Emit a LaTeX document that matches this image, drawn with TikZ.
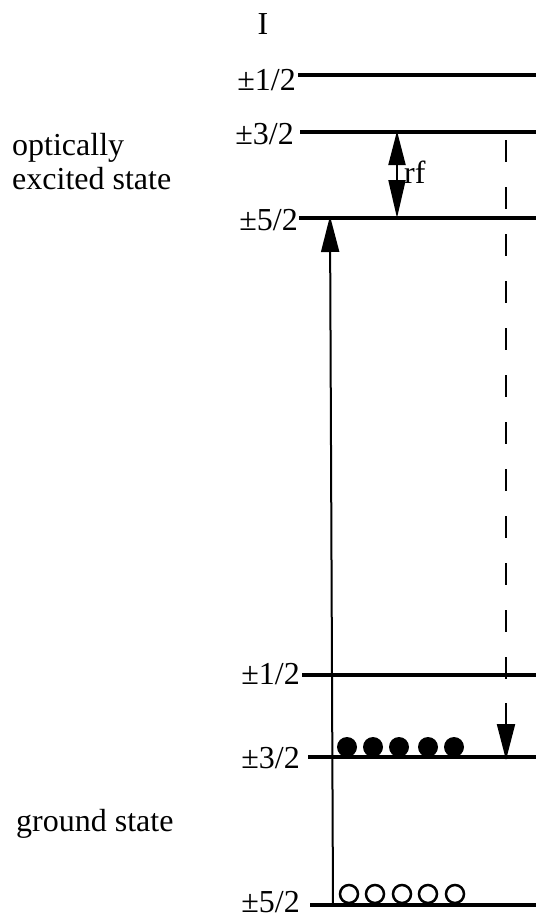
\documentclass[tikz,border=0pt]{standalone}
\usepackage{fontspec}
\setmainfont{Liberation Serif}
\usetikzlibrary{arrows.meta}
\begin{document}
\begin{tikzpicture}[x=1pt,y=-1pt,
  level/.style={line width=4pt},
  lab/.style={anchor=base east,inner sep=0pt,font=\fontsize{32}{34}\selectfont},
  txt/.style={anchor=base west,inner sep=0pt,align=left,font=\fontsize{32}{34}\selectfont},
  big/.style={-{Triangle[length=36pt,width=18pt]}},
  hole/.style={fill=white,draw=black,line width=2.5pt}]
\useasboundingbox (0,0) rectangle (536,919);
% title
\node[anchor=base,inner sep=0pt,font=\fontsize{32}{34}\selectfont] (I) at (263,34) {I};
% excited levels
\coordinate (e1a) at (298,75);  \coordinate (e1b) at (536,75);
\coordinate (e3a) at (300,132); \coordinate (e3b) at (536,132);
\coordinate (e5a) at (299,218); \coordinate (e5b) at (536,218);
\draw[level] (e1a) -- (e1b);
\draw[level] (e3a) -- (e3b);
\draw[level] (e5a) -- (e5b);
\node[lab] (le1) at (296,90) {±1/2};
\node[lab] (le3) at (294,144) {±3/2};
\node[lab] (le5) at (298,230) {±5/2};
% ground levels
\coordinate (g1a) at (302,675); \coordinate (g1b) at (536,675);
\coordinate (g3a) at (308,757); \coordinate (g3b) at (536,757);
\coordinate (g5a) at (310,905); \coordinate (g5b) at (536,905);
\draw[level] (g1a) -- (g1b);
\draw[level] (g3a) -- (g3b);
\draw[level] (g5a) -- (g5b);
\node[lab] (lg1) at (300,684) {±1/2};
\node[lab] (lg3) at (300,768) {±3/2};
\node[lab] (lg5) at (300,912) {±5/2};
% state labels
\node[txt] (exc) at (12,189) {optically\\excited state};
\node[txt] (gnd) at (16,831) {ground state};
% optical pump
\coordinate (pb) at (333,905);
\coordinate (pt) at (330,216);
\draw[line width=2pt,big] (pb) -- (pt);
% rf
\coordinate (rt) at (397,131);
\coordinate (rb) at (397,218);
\draw[line width=2pt,{Triangle[length=34pt,width=17pt]}-{Triangle[length=38pt,width=17pt]}] (rt) -- (rb);
\node[anchor=west,inner sep=0pt,font=\fontsize{32}{34}\selectfont] (rf) at (404,172) {rf};
% decay
\coordinate (ds) at (506,140);
\coordinate (dm) at (506,684);
\coordinate (dt) at (506,703);
\coordinate (de) at (506,760);
\draw[line width=2.5pt,dash pattern=on 22pt off 25pt] (ds) -- (dm);
\draw[line width=2pt,big] (dt) -- (de);
% populations
\foreach \x [count=\i] in {347,373,399,428,454}
  \fill[black] (\x,747) circle (10) node (p\i) {};
\foreach \x [count=\i] in {349,375,402,428,455}
  \draw[hole] (\x,894) circle (9) node (h\i) {};
\end{tikzpicture}
\end{document}
